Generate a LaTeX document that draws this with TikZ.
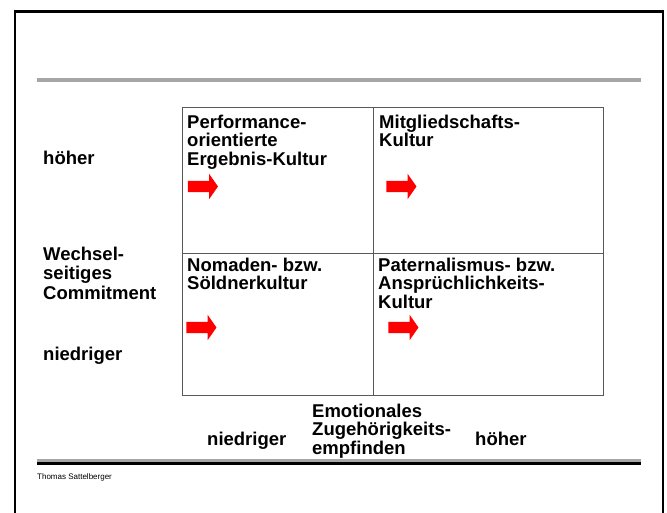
\documentclass[tikz,border=0pt]{standalone}
\usepackage{fontspec}
\setmainfont{Liberation Sans}
\usepackage{tikz}
\usetikzlibrary{shapes.arrows}
\tikzset{lbl/.style = {font=\bfseries\fontsize{18.5}{18.5}\selectfont, align=left, inner sep=0}}
\tikzset{redarrow/.style = {single arrow, fill=red, draw=none, inner xsep=0, inner ysep=5.5pt,
                            minimum height=30pt,
                            single arrow head extend=7pt, single arrow tip angle=110}}
\tikzset{cellline/.style = {draw=black!65, line width=1pt}}
\definecolor{mgray}{rgb}{0.65, 0.65, 0.65}

\begin{document}
\begin{tikzpicture}[x=1pt, y=-1pt]
    \useasboundingbox [fill=white] (0, 0) rectangle (667, 513);

    \draw [line width=2.5pt] (15, 513) -- (15, 11.5) -- (663, 11.5) -- (663, 513);
    \draw [mgray, line width=4pt] (37, 80) -- (641, 80);
    \draw [mgray, line width=3pt] (37, 460.5) -- (641, 460.5);
    \draw [line width=3pt] (37, 463.8) -- (641, 463.8);

    \draw [cellline] (182, 108) rectangle (603, 395);
    \draw [cellline] (373, 108) -- (373, 395);
    \draw [cellline] (182, 254) -- (603, 254);

    \node [lbl, anchor=north west] (perf) at (187, 114.6) {Performance-\\orientierte\\Ergebnis-Kultur};
    \node [lbl, anchor=north west] (mitg) at (379, 114.6) {Mitgliedschafts-\\Kultur};
    \node [lbl, anchor=north west] (noma) at (187, 257.6) {Nomaden- bzw.\\Söldnerkultur};
    \node [lbl, anchor=north west] (pater) at (378, 257.6) {Paternalismus- bzw.\\Ansprüchlichkeits-\\Kultur};

    \node [redarrow] (arrperf) at (201, 186.5) {};
    \node [redarrow] (arrmitg) at (399.5, 186.5) {};
    \node [redarrow] (arrnoma) at (199.5, 327.5) {};
    \node [redarrow] (arrpater) at (401.5, 327.5) {};

    \node [lbl, anchor=base west] (yhigh) at (43, 165) {höher};
    \node [lbl, anchor=north west, font=\bfseries\fontsize{18.5}{19.5}\selectfont] (ylabel) at (43, 246.6) {Wechsel-\\seitiges\\Commitment};
    \node [lbl, anchor=base west] (ylow) at (43, 360) {niedriger};

    \node [lbl, anchor=base west] (xlow) at (207, 445) {niedriger};
    \node [lbl, anchor=north west] (xlabel) at (312, 403.6) {Emotionales\\Zugehörigkeits-\\empfinden};
    \node [lbl, anchor=base west] (xhigh) at (475, 445) {höher};

    \node [anchor=base west, inner sep=0, font=\fontsize{8}{8}\selectfont] (author) at (37, 479) {Thomas Sattelberger};
\end{tikzpicture}
\end{document}
